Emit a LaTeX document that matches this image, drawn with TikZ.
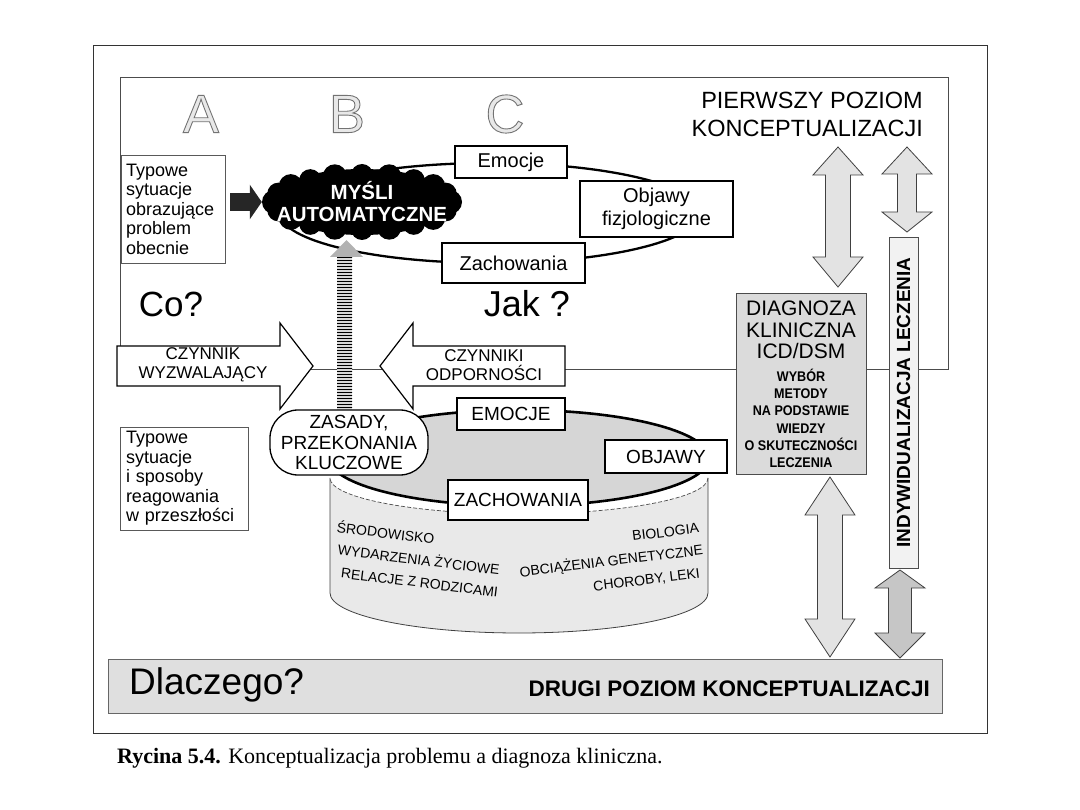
\documentclass[tikz,border=0pt]{standalone}
\usepackage{fontspec}
\setmainfont{Liberation Sans}
\newfontfamily\capfont{Liberation Serif}
\newfontfamily\condfont[FakeStretch=0.9]{Liberation Sans}
\usetikzlibrary{patterns,arrows.meta,calc}
\newcommand\fsz[2]{\fontsize{#1}{#2}\selectfont}
\newcommand\outl[1]{\special{pdf:literal direct 0.45 G 0.9 w 2 Tr}#1\special{pdf:literal direct 0 Tr}}
% vertical double block arrow: x, ytop, ybot, headhalf, bodyhalf, headlen top, headlen bottom, fill
\newcommand\vdarrow[8]{%
  \filldraw[fill=#8, draw=black!75, line width=0.8pt]
    (#1,#2) -- (#1+#4,#2+#6) -- (#1+#5,#2+#6) -- (#1+#5,#3-#7) -- (#1+#4,#3-#7)
    -- (#1,#3) -- (#1-#4,#3-#7) -- (#1-#5,#3-#7) -- (#1-#5,#2+#6) -- (#1-#4,#2+#6) -- cycle;}
\begin{document}
\begin{tikzpicture}[x=1pt,y=-1pt,
  frame/.style={draw=black!80, line width=0.8pt},
  tbox/.style={draw=black!65, line width=0.9pt, fill=white, inner sep=0pt},
  ebox/.style={draw=black, line width=1.3pt, fill=white, inner sep=0pt, align=center},
  txt/.style={inner sep=0pt, align=center},
  letter/.style={inner sep=0pt, text=gray!18, font=\fsz{54}{54}},
  blockarrow/.style={fill=white, draw=black, line width=1.2pt},
  cyl/.style={inner sep=0pt, font=\fsz{14}{14}},
]
\useasboundingbox (0,0) rectangle (1080,810);

% frames
\draw[frame] (93,45) rectangle (987,733);
\draw[draw=black!70, line width=0.8pt] (120,77) rectangle (948,369);

% letters
\node[letter] (A) at (201,114) {\outl{A}};
\node[letter] (B) at (347,114) {\outl{B}};
\node[letter] (C) at (505,114) {\outl{C}};

% first level title
\node[txt, anchor=east, align=right, font=\fsz{23.5}{28}] (pier) at (923,114)
  {PIERWSZY POZIOM\\KONCEPTUALIZACJI};

% ring ellipse
\draw[line width=2.3pt] (490,213) ellipse [x radius=210, y radius=50];

% striped B arrow
\fill[gray!30] (337,257) rectangle (352,410);
\fill[pattern=horizontal lines, pattern color=black] (337,257) rectangle (352,410);
\fill[gray!60] (330,257) -- (346.5,240) -- (363,257) -- cycle;

% typical situations (present)
\node[tbox, minimum width=104, minimum height=108, text width=94, align=left,
  font=\fsz{18}{19.5}] (typ1) at (173,209)
  {Typowe\\sytuacje\\obrazujące\\problem\\obecnie};

% cloud (blob of puffs)
\node[inner sep=0pt, minimum width=200, minimum height=80] (cloud) at (362,202) {};
\fill[black] (cloud.center) ellipse [x radius=92, y radius=33];
\foreach \a/\r in {0/12,18/11,36/12,54/11,72/12,90/11,108/12,126/11,144/12,162/11,180/12,198/11,216/12,234/11,252/12,270/11,288/12,306/11,324/12,342/11}
  \fill[black] ($(cloud.center)+({88*cos(\a)},{27*sin(\a)})$) circle [radius=\r];
\node[txt, text=white, font=\bfseries\fsz{20.5}{22}] (cloudt) at (cloud) {MYŚLI\\AUTOMATYCZNE};
\draw[line width=18pt, black!85, -{Triangle[length=12pt,width=34pt]}, shorten <=5pt]
  (typ1.east |- cloud) -- (cloud.west);

% C boxes
\node[ebox, minimum width=112, minimum height=32, font=\fsz{20}{22}] (emo) at (511,162) {Emocje};
\node[ebox, minimum width=153, minimum height=56, font=\fsz{20}{23}] (obj) at (656.5,209) {Objawy\\fizjologiczne};
\node[ebox, minimum width=143, minimum height=40, font=\fsz{20}{22}] (zach) at (513.5,263) {Zachowania};

% questions
\node[txt, font=\fsz{35}{35}] (co) at (171,304) {Co?};
\node[txt, font=\fsz{36}{36}] (jak) at (527,304) {Jak ?};

% factor arrows
\filldraw[blockarrow] (117,346) -- (280,346) -- (280,323) -- (313,366) -- (280,409) -- (280,386) -- (117,386) -- cycle;
\filldraw[blockarrow] (565,346) -- (413,346) -- (413,323) -- (380,366) -- (413,409) -- (413,386) -- (565,386) -- cycle;
\node[txt, font=\fsz{17}{18.5}] (czw) at (203,365) {CZYNNIK\\WYZWALAJĄCY};
\node[txt, font=\fsz{17}{18.5}] (czo) at (484,365) {CZYNNIKI\\ODPORNOŚCI};

% typical situations (past)
\node[tbox, minimum width=128, minimum height=103, text width=116, align=left,
  font=\fsz{18}{19.5}] (typ2) at (184,478.5)
  {Typowe\\sytuacje\\i sposoby\\reagowania\\w przeszłości};

% cylinder
\fill[gray!17] (330,478) -- (330,593) arc[start angle=180, end angle=0, x radius=189, y radius=40]
  -- (708,478) arc[start angle=0, end angle=180, x radius=189, y radius=36] -- cycle;
\draw[black!75, line width=0.8pt] (330,478) -- (330,593) arc[start angle=180, end angle=0, x radius=189, y radius=40] -- (708,478);
\draw[black!70, line width=0.7pt, dash pattern=on 4pt off 2pt] (708,478) arc[start angle=0, end angle=180, x radius=189, y radius=36];
\filldraw[fill=gray!32, draw=black, line width=2.6pt] (519,458) ellipse [x radius=190, y radius=48];

\node[cyl, rotate=-7, anchor=west] (sr) at (337,526) {ŚRODOWISKO};
\node[cyl, rotate=-7, anchor=west] (wy) at (338,549) {WYDARZENIA ŻYCIOWE};
\node[cyl, rotate=-7, anchor=west] (re) at (341,573) {RELACJE Z RODZICAMI};
\node[cyl, rotate=7, anchor=east] (bi) at (699,528) {BIOLOGIA};
\node[cyl, rotate=7, anchor=east] (ob) at (703,550) {OBCIĄŻENIA GENETYCZNE};
\node[cyl, rotate=7, anchor=east] (ch) at (700,574) {CHOROBY, LEKI};

\node[ebox, minimum width=158, minimum height=65, rounded corners=28, font=\fsz{19}{20.5}] (zas) at (349,442.5)
  {ZASADY,\\PRZEKONANIA\\KLUCZOWE};
\node[ebox, minimum width=108, minimum height=32, font=\fsz{19}{21}] (emo2) at (511,414) {EMOCJE};
\node[ebox, minimum width=122, minimum height=33, font=\fsz{19}{21}] (objw) at (666,456.5) {OBJAWY};
\node[ebox, minimum width=140, minimum height=40, font=\fsz{19}{21}] (zach2) at (518,500) {ZACHOWANIA};

% diagnosis
\node[draw=black!70, line width=0.8pt, fill=gray!28, minimum width=130, minimum height=181, inner sep=0pt] (diag) at (801,383.5) {};
\node[txt, font=\fsz{21}{21.7}] (diagt) at (801,330) {DIAGNOZA\\KLINICZNA\\ICD/DSM};
\node[txt, font=\condfont\bfseries\fsz{14}{17.3}] (diags) at (801,418.5)
  {WYBÓR\\METODY\\NA PODSTAWIE\\WIEDZY\\O SKUTECZNOŚCI\\LECZENIA};

% individualisation
\node[draw=black!70, line width=0.8pt, fill=gray!10, minimum width=29, minimum height=331, inner sep=0pt] (ind) at (903.5,402.5) {};
\node[txt, rotate=90, font=\bfseries\fsz{19}{19}] (indt) at (903.5,402.5) {INDYWIDUALIZACJA LECZENIA};

% block double arrows
\vdarrow{838}{147}{287}{25}{12.5}{28}{30}{gray!22}
\vdarrow{907}{147}{232}{25}{9.5}{27}{20}{gray!22}
\vdarrow{830}{477}{657}{25}{12.5}{38}{38}{gray!22}
\vdarrow{900}{570}{658}{25}{11.5}{18}{25}{gray!45}

% second level bar
\node[draw=black!60, line width=0.8pt, fill=gray!25, minimum width=834, minimum height=54, inner sep=0pt] (bar) at (525,686) {};
\node[txt, anchor=west, font=\fsz{37}{37}] (dlacz) at (129,685) {Dlaczego?};
\node[txt, anchor=east, font=\bfseries\fsz{22.5}{22.5}] (drugi) at (930,689) {DRUGI POZIOM KONCEPTUALIZACJI};

% caption
\node[anchor=west, inner sep=0pt, font=\capfont\fsz{22}{26}] (cap) at (117,758)
  {\textbf{Rycina 5.4.} Konceptualizacja problemu a diagnoza kliniczna.};
\end{tikzpicture}
\end{document}
